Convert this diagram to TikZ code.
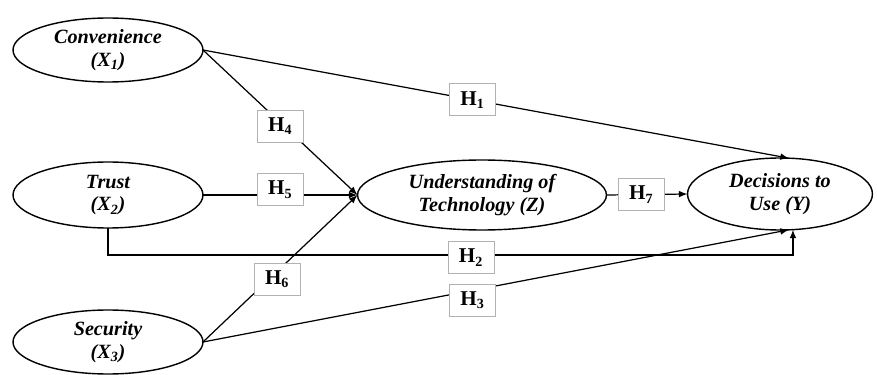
\documentclass[tikz,border=0pt]{standalone}
\usepackage{fontspec}
\setmainfont{Liberation Serif}
\usetikzlibrary{shapes.geometric}
\begin{document}
\begin{tikzpicture}[x=0.02cm,y=-0.02cm,inner sep=0pt,outer sep=0pt,line width=0.7pt,>=latex,
construct/.style={draw,ellipse,line width=0.8pt,align=center,font=\fontsize{11.5}{13}\selectfont\bfseries\itshape},
hyp/.style={draw=black!30,fill=white,rectangle,line width=0.5pt,minimum width=0.92cm,minimum height=0.64cm,font=\fontsize{12}{13}\selectfont\bfseries}]
\useasboundingbox (0,0) rectangle (877,375);

\draw (108,50) node[construct,minimum width=3.8cm,minimum height=1.28cm] (conv) {Convenience\\(X\textsubscript{1})};
\draw (108,195) node[construct,minimum width=3.8cm,minimum height=1.32cm] (trust) {Trust\\(X\textsubscript{2})};
\draw (108,342) node[construct,minimum width=3.8cm,minimum height=1.28cm] (sec) {Security\\(X\textsubscript{3})};
\draw (482,195) node[construct,minimum width=4.98cm,minimum height=1.4cm] (und) {Understanding of\\Technology (Z)};
\draw (780,194) node[construct,minimum width=3.7cm,minimum height=1.44cm] (dec) {Decisions to\\Use (Y)};

\draw[->] (conv.east) -- node[hyp,pos=.46] {H\textsubscript{1}} (dec.76);
\draw[->] (conv.east) -- node[hyp,pos=.5,yshift=-2pt] {H\textsubscript{4}} (und.west);
\draw[->] (trust.east) -- node[hyp,pos=.5,yshift=3pt] {H\textsubscript{5}} (und.west);
\draw[->] (sec.east) -- node[hyp,pos=.48,yshift=-4.5pt] {H\textsubscript{6}} (und.west);
\draw[->] (sec.east) -- node[hyp,pos=.46,yshift=-5.5pt] {H\textsubscript{3}} (dec.-76);
\draw[->] (trust.south) -- ++(0,27) -| node[hyp,pos=.265,yshift=-1.5pt] {H\textsubscript{2}} (dec.-70);
\draw[->] (und.east) -- node[hyp,pos=.43] {H\textsubscript{7}} (dec.west);
\end{tikzpicture}
\end{document}
